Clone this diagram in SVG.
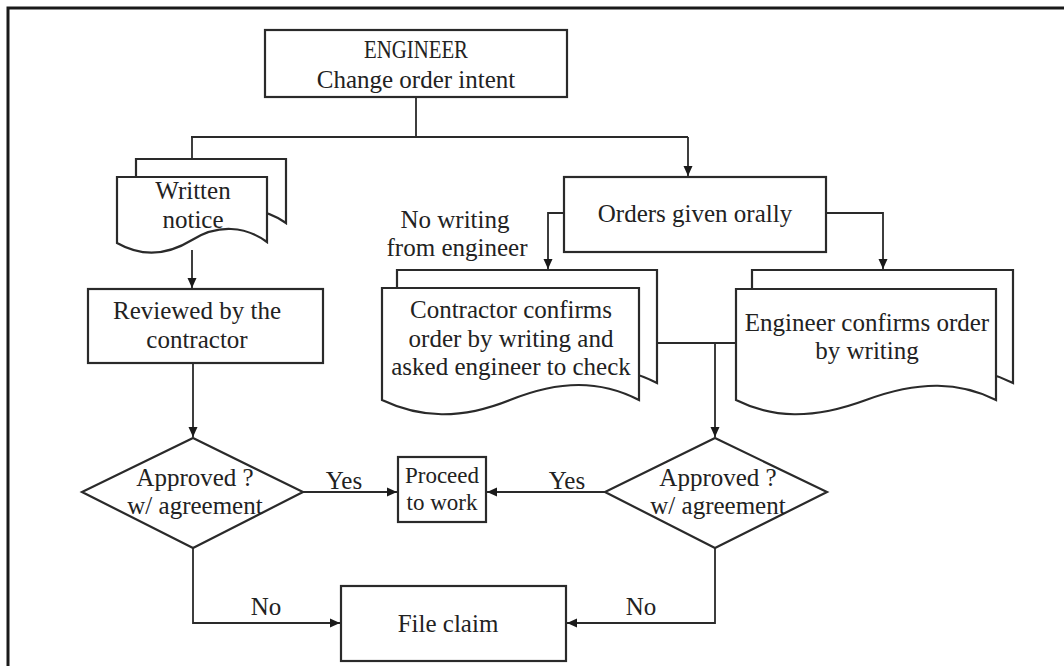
<svg xmlns="http://www.w3.org/2000/svg" width="1064" height="666" viewBox="0 0 1064 666">
<defs>
<marker id="arr" viewBox="0 0 10 10" refX="10" refY="5" markerWidth="10" markerHeight="10" markerUnits="userSpaceOnUse" orient="auto">
<path d="M0,0.5 L10,5 L0,9.5 Z" fill="#1a1a1a"/>
</marker>
<style>
.box{fill:#fff;stroke:#2a2a2a;stroke-width:2.2}
.ln{fill:none;stroke:#2a2a2a;stroke-width:1.8}
.t{font-family:"Liberation Serif","Times New Roman",serif;font-size:25px;fill:#222;text-anchor:middle}
.s{font-size:23px}
</style>
</defs>
<rect width="1064" height="666" fill="#fff"/>
<rect x="8" y="8" width="1080" height="680" fill="none" stroke="#1a1a1a" stroke-width="3"/>

<g id="connectors">
<path class="ln" d="M416,97 V137 M191,137 H688"/>
<path class="ln" d="M192,137 V176" marker-end="url(#arr)"/>
<path class="ln" d="M688,137 V176" marker-end="url(#arr)"/>
<path class="ln" d="M192,250 V288" marker-end="url(#arr)"/>
<path class="ln" d="M564,213 H548 V269" marker-end="url(#arr)"/>
<path class="ln" d="M826,213 H883 V269" marker-end="url(#arr)"/>
<path class="ln" d="M193,363 V437" marker-end="url(#arr)"/>
<path class="ln" d="M639,343 H736 M715,343 V437" marker-end="url(#arr)"/>
<path class="ln" d="M303,492 H397" marker-end="url(#arr)"/>
<path class="ln" d="M605,492 H487" marker-end="url(#arr)"/>
<path class="ln" d="M193,548 V623 H340" marker-end="url(#arr)"/>
<path class="ln" d="M715,548 V623 H567" marker-end="url(#arr)"/>
<text class="t" x="344" y="489">Yes</text>
<text class="t" x="567" y="489">Yes</text>
<text class="t" x="266" y="615">No</text>
<text class="t" x="641" y="615">No</text>
<text class="t" x="455" y="228">No writing</text>
<text class="t" x="457" y="256">from engineer</text>
</g>

<g id="engineer">
<rect class="box" x="265" y="30" width="302" height="67"/>
<text class="t" x="416" y="58" textLength="104" lengthAdjust="spacingAndGlyphs">ENGINEER</text>
<text class="t" x="416" y="88">Change order intent</text>
</g>

<g id="written-notice">
<path class="box" d="M136,159 H286 V223 C264,207 237,205 211,221 C185,237 159,237 136,224 Z"/>
<path class="box" d="M117,177 H267 V242 C245,226 218,224 192,240 C166,256 140,256 117,243 Z"/>
<text class="t" x="193" y="199">Written</text>
<text class="t" x="193" y="228">notice</text>
</g>

<g id="reviewed">
<rect class="box" x="88" y="289" width="235" height="74"/>
<text class="t" x="197" y="319">Reviewed by the</text>
<text class="t" x="197" y="348">contractor</text>
</g>

<g id="orders-oral">
<rect class="box" x="564" y="177" width="262" height="75"/>
<text class="t" x="695" y="222">Orders given orally</text>
</g>

<g id="contractor-confirms">
<path class="box" d="M397,270 H657 V383 C618,363 578,363 528,383 C478,403 438,401 397,383 Z"/>
<path class="box" d="M382,288 H639 V400 C600,380 560,380 510,400 C460,420 420,418 382,400 Z"/>
<text class="t" x="511" y="318">Contractor confirms</text>
<text class="t" x="511" y="347">order by writing and</text>
<text class="t" x="511" y="375">asked engineer to check</text>
</g>

<g id="engineer-confirms">
<path class="box" d="M752,270 H1013 V383 C977,365 937,363 883,383 C829,403 789,401 752,383 Z"/>
<path class="box" d="M736,289 H996 V400 C960,382 920,380 866,400 C812,420 772,418 736,400 Z"/>
<text class="t" x="867" y="331">Engineer confirms order</text>
<text class="t" x="867" y="359">by writing</text>
</g>

<g id="approved-left">
<path class="box" d="M193,438 L303,492 L193,548 L82,492 Z"/>
<text class="t" x="195" y="486">Approved ?</text>
<text class="t" x="195" y="514">w/ agreement</text>
</g>

<g id="proceed">
<rect class="box" x="398" y="457" width="88" height="65"/>
<text class="t s" x="442" y="483">Proceed</text>
<text class="t s" x="442" y="510">to work</text>
</g>

<g id="approved-right">
<path class="box" d="M715,438 L827,492 L715,548 L605,492 Z"/>
<text class="t" x="718" y="486">Approved ?</text>
<text class="t" x="718" y="514">w/ agreement</text>
</g>

<g id="file-claim">
<rect class="box" x="341" y="586" width="225" height="75"/>
<text class="t" x="448" y="632">File claim</text>
</g>
</svg>
